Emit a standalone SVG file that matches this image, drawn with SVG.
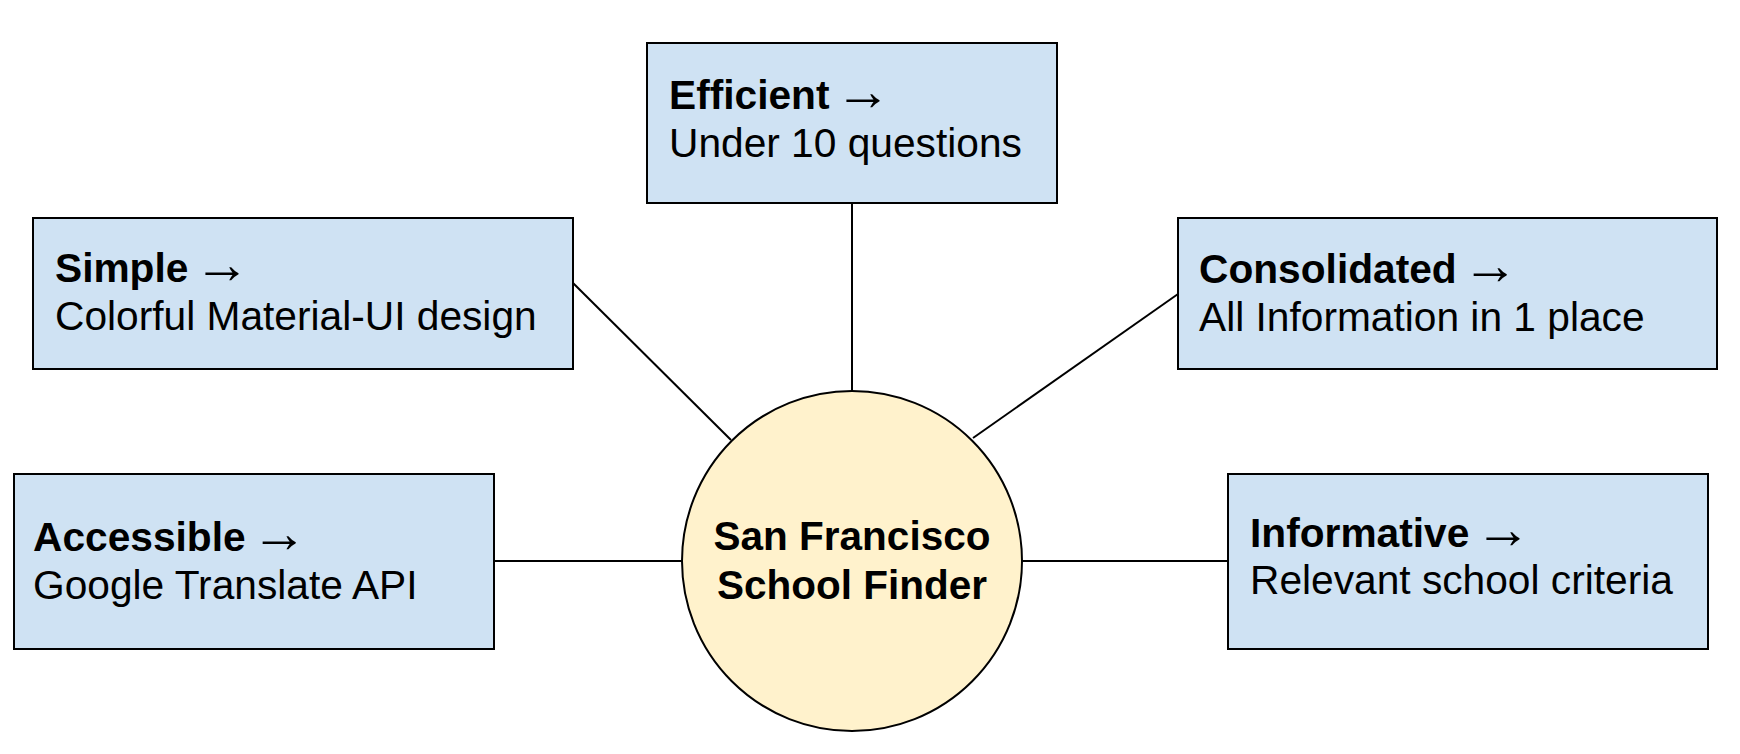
<svg xmlns="http://www.w3.org/2000/svg" width="1740" height="754" viewBox="0 0 1740 754">
<style>
.box{fill:#cfe2f3;stroke:#000;stroke-width:2}
.hub{fill:#fff2cc;stroke:#000;stroke-width:2}
.conn line{stroke:#000;stroke-width:2}
text{font-family:"Liberation Sans",Arial,sans-serif;font-size:40.7px;fill:#000}
.b{font-weight:bold}
.a{font-size:56px}
.c{text-anchor:middle;font-weight:bold;font-size:40.5px}
</style>
<rect width="1740" height="754" fill="#fff"/>
<g id="connectors" class="conn">
<line x1="852" y1="203" x2="852" y2="391"/>
<line x1="573" y1="283" x2="731" y2="440"/>
<line x1="1178" y1="294" x2="973" y2="438"/>
<line x1="494" y1="561" x2="682" y2="561"/>
<line x1="1022" y1="561" x2="1228" y2="561"/>
</g>
<g id="efficient">
<rect class="box" x="647" y="43" width="410" height="160"/>
<text x="669" y="109"><tspan class="b">Efficient</tspan> <tspan class="a" dx="-6" dy="1">→</tspan></text>
<text x="669" y="157">Under 10 questions</text>
</g>
<g id="simple">
<rect class="box" x="33" y="218" width="540" height="151"/>
<text x="55" y="282"><tspan class="b">Simple</tspan> <tspan class="a" dx="-6" dy="1">→</tspan></text>
<text x="55" y="330">Colorful Material-UI design</text>
</g>
<g id="consolidated">
<rect class="box" x="1178" y="218" width="539" height="151"/>
<text x="1199" y="283"><tspan class="b">Consolidated</tspan> <tspan class="a" dx="-6" dy="1">→</tspan></text>
<text x="1199" y="331">All Information in 1 place</text>
</g>
<g id="accessible">
<rect class="box" x="14" y="474" width="480" height="175"/>
<text x="33" y="551"><tspan class="b">Accessible</tspan> <tspan class="a" dx="-6" dy="1">→</tspan></text>
<text x="33" y="599">Google Translate API</text>
</g>
<g id="informative">
<rect class="box" x="1228" y="474" width="480" height="175"/>
<text x="1250" y="547"><tspan class="b">Informative</tspan> <tspan class="a" dx="-6" dy="1">→</tspan></text>
<text x="1250" y="594">Relevant school criteria</text>
</g>
<g id="hub">
<circle class="hub" cx="852" cy="561" r="170"/>
<text class="c" x="852" y="550">San Francisco</text>
<text class="c" x="852" y="599">School Finder</text>
</g>
</svg>
